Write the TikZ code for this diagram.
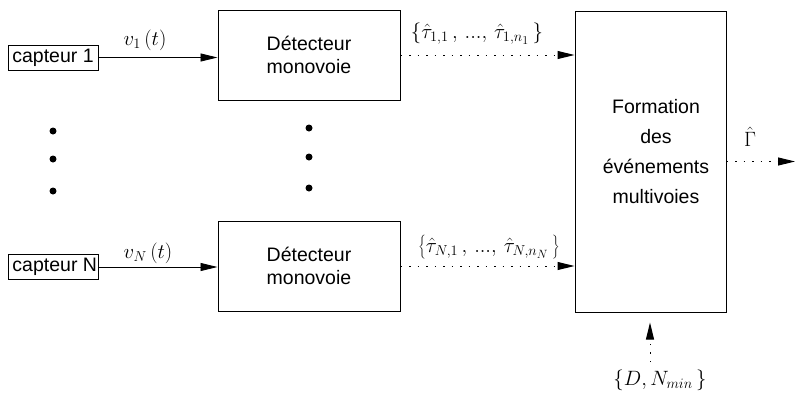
\documentclass[tikz,border=0pt]{standalone}
\usepackage[no-math]{fontspec}
\newfontfamily\lib{Liberation Sans}
\DeclareMathSizes{20}{20}{15}{12}
\usetikzlibrary{arrows.meta}
\begin{document}
\begin{tikzpicture}[x=1pt,y=-1pt,
  box/.style={draw,line width=1pt,inner sep=0pt,font=\lib\fontsize{19.5}{23}\selectfont,align=center},
  sensor/.style={box,minimum width=90pt,minimum height=25pt},
  detbox/.style={box,minimum width=182pt,minimum height=90pt},
  lbl/.style={inner sep=0pt,font=\fontsize{20}{24}\selectfont},
  txt/.style={inner sep=0pt,font=\lib\fontsize{19.5}{30}\selectfont,align=center},
  solidarrow/.style={line width=0.9pt,-{Triangle[length=17pt,width=8pt]}},
  dotarrow/.style={line width=1pt,dash pattern=on 1.5pt off 7pt,-{Triangle[length=17pt,width=8pt]}},
  dot/.style={circle,fill=black,inner sep=0pt,minimum size=7pt}]
\useasboundingbox (0,0) rectangle (795,392);
% sensors
\node[sensor] (cap1) at (53,57.5) {capteur 1};
\node[sensor] (capN) at (53,267) {\makebox[90pt][l]{\hspace*{4.5pt}capteur N}};
% detectors
\node[detbox] (det1) at (309,55) {Détecteur\\monovoie};
\node[detbox] (detN) at (309,266) {Détecteur\\monovoie};
% formation
\node[draw,line width=1pt,minimum width=151pt,minimum height=301pt,inner sep=0pt] (form) at (650.5,161.5) {};
\node[txt] (formtxt) at (656,152) {Formation\\des\\événements\\ multivoies};
% dots
\node[dot] (l1) at (53,131) {};
\node[dot] (l2) at (53,159) {};
\node[dot] (l3) at (53,191) {};
\node[dot] (m1) at (309,128) {};
\node[dot] (m2) at (309,157) {};
\node[dot] (m3) at (309,188) {};
% labels
\node[lbl] (v1) at (145,40) {$v_1\,(t)$};
\node[lbl] (vN) at (148,253) {$v_N\,(t)$};
\node[lbl] (t1) at (477,34) {$\left\{\hat\tau_{1,1}\,,\,...,\,\hat\tau_{1,n_1}\,\right\}$};
\node[lbl] (tN) at (489,247) {$\left\{\hat\tau_{N,1}\,,\,...,\,\hat\tau_{N,n_N}\,\right\}$};
\node[lbl] (gam) at (750,137) {$\hat\Gamma$};
\node[lbl] (dn) at (660,380) {$\left\{D, N_{min}\,\right\}$};
\coordinate (out) at (795,161.5);
\coordinate (pin) at (650,362);
% connectors
\draw[solidarrow] (cap1.east) -- (det1.west |- cap1.east);
\draw[solidarrow] (capN.east) -- (detN.west |- capN.east);
\draw[dotarrow] (det1.east) -- (det1.east -| form.west);
\draw[dotarrow] (detN.east) -- (detN.east -| form.west);
\draw[dotarrow] (form.east |- out) -- (out);
\draw[dotarrow,shorten >=10pt] (pin) -- (pin |- form.south);
\end{tikzpicture}
\end{document}
